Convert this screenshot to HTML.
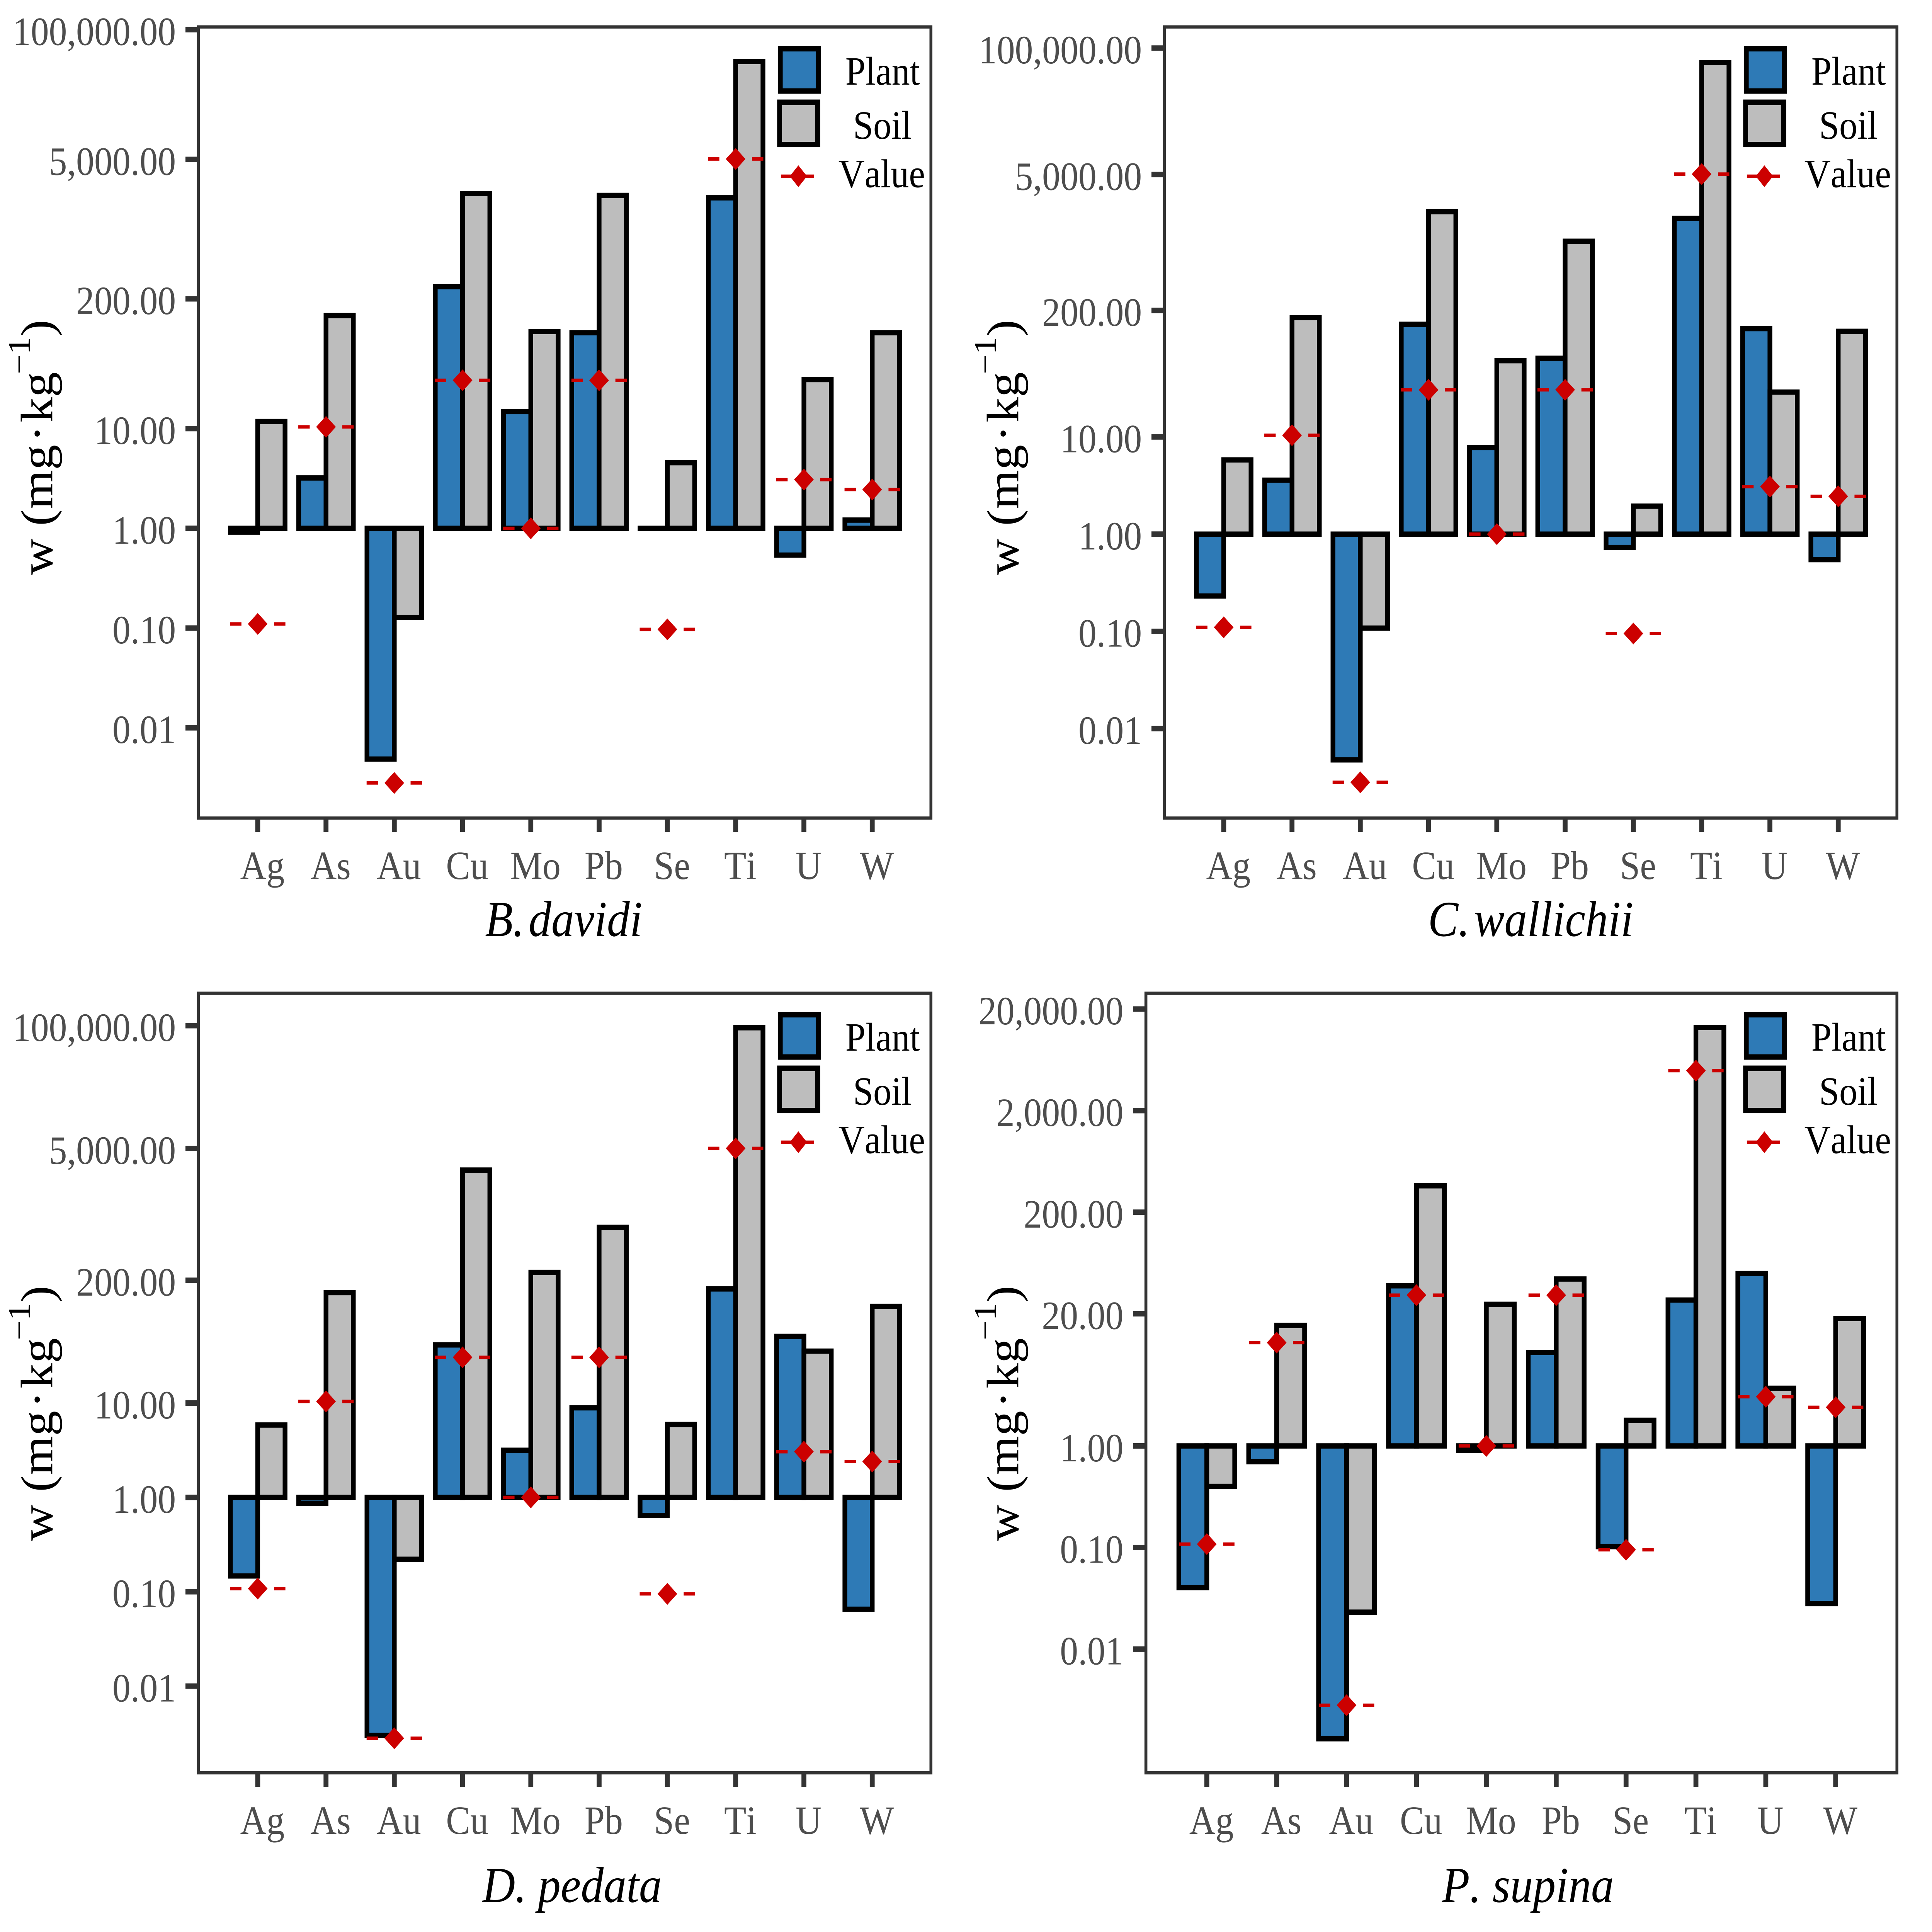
<!DOCTYPE html>
<html lang="en">
<head>
<meta charset="utf-8">
<title>Element concentrations in plant and soil</title>
<style>
html,body{margin:0;padding:0;background:#fff;width:100%;height:100%;overflow:hidden;}
svg{display:block;width:100vw;height:100vh;}
text{font-family:"Liberation Serif","Times New Roman",serif;font-kerning:none;text-rendering:geometricPrecision;}
</style>
</head>
<body>
<svg id="figure" xmlns="http://www.w3.org/2000/svg" viewBox="0 0 6282 5668" preserveAspectRatio="none">
<rect x="0" y="0" width="6282" height="5668" fill="#ffffff"/>
</svg>
<script>
// ---- chart data ----
const categories = ['Ag','As','Au','Cu','Mo','Pb','Se','Ti','U','W'];
const legendLabels = ['Plant','Soil','Value'];

const davidiPlant = [0.917,3.2,0.00486,265,14.8,91.4,1.0,2060,0.539,1.21];
const davidiSoil = [11.8,136,0.128,2275,94,2180,4.55,48000,31,91.4];
const davidiValue = [0.11,10.4,0.0028,30.5,1,30.5,0.097,5050,3.08,2.45];

const wallichiiPlant = [0.231,3.59,0.00476,144,7.77,64.4,0.73,1770,130,0.546];
const wallichiiSoil = [5.8,169,0.108,2077,60.8,1030,1.94,71000,28.9,122];
const wallichiiValue = [0.11,10.4,0.0028,30.5,1,30.5,0.095,5050,3.08,2.45];

const pedataPlant = [0.147,0.867,0.003,41.3,3.16,8.9,0.642,162,50.9,0.0653];
const pedataSoil = [5.85,148,0.221,2947,243,728,5.93,95000,35.5,106];
const pedataValue = [0.108,10.4,0.0028,30.5,1,30.5,0.095,5000,3.05,2.4];

const supinaPlant = [0.0403,0.70,0.00131,37.7,0.9,8.32,0.102,27.3,49.9,0.028];
const supinaSoil = [0.4,15.4,0.0231,364,24.8,44,1.79,13200,3.7,18];
const supinaValue = [0.108,10.4,0.0028,30.5,1,30.5,0.095,4950,3.05,2.4];

const tickLabelsWide = ['100,000.00','5,000.00','200.00','10.00','1.00','0.10','0.01'];
const tickLabelsSupina = ['20,000.00','2,000.00','200.00','20.00','1.00','0.10','0.01'];

// ---- panel layout (not data) ----
const panels = [
  {slug:'b-davidi', title:'B.', title2:'davidi', gap:14, tx:1833, ox:0, oy:0, left:645, right:3027, top:79, bottom:2400, y1:1550, k:292.6, x0:838, dx:222, plant:davidiPlant, soil:davidiSoil, value:davidiValue, ticks:tickLabelsWide},
  {slug:'c-wallichii', title:'C.', title2:'wallichii', gap:14, tx:4977, ox:3141, oy:0, left:3786, right:6168, top:79, bottom:2400, y1:1567, k:285.2, x0:3979, dx:222, plant:wallichiiPlant, soil:wallichiiSoil, value:wallichiiValue, ticks:tickLabelsWide},
  {slug:'d-pedata', title:'D.', title2:'pedata', gap:37, tx:1860, ox:0, oy:2834, left:645, right:3027, top:2914, bottom:5201, y1:4393, k:276.8, x0:838, dx:222, plant:pedataPlant, soil:pedataSoil, value:pedataValue, ticks:tickLabelsWide},
  {slug:'p-supina', title:'P.', title2:'supina', gap:37, tx:4968, ox:3141, oy:2834, left:3726, right:6168, top:2914, bottom:5201, y1:4242, k:298, x0:3924, dx:227.2, plant:supinaPlant, soil:supinaSoil, value:supinaValue, ticks:tickLabelsSupina}
];

const NS = 'http://www.w3.org/2000/svg';
const root = document.getElementById('figure');
const BLUE = '#2E7AB6', GREY = '#BDBDBD', RED = '#CC0000', AXIS = '#333333', TICKTEXT = '#4D4D4D';
const BAR_STROKE = 15.5;
const FONT_TICK = 118, FONT_TITLE = 148;

function mk(tag, attrs, parent, txt) {
  const el = document.createElementNS(NS, tag);
  for (const key in attrs) el.setAttribute(key, attrs[key]);
  if (txt !== undefined) el.textContent = txt;
  parent.appendChild(el);
  return el;
}

function drawBar(g, x, w, yBase, yVal, fill, name) {
  const h = Math.max(Math.abs(yVal-yBase), 0.5);
  const el = mk('rect', {x:x, y:Math.min(yBase,yVal), width:w, height:h, fill:fill, stroke:'#000000', 'stroke-width':BAR_STROKE, 'stroke-linejoin':'miter'}, g);
  
  
}

function drawMarker(g, cx, cy, name) {
  const m = mk('g', {}, g);
  
  
  mk('rect', {x:cx-90, y:cy-5, width:37, height:10, fill:RED}, m);
  mk('rect', {x:cx+53, y:cy-5, width:37, height:10, fill:RED}, m);
  mk('polygon', {points:(cx-32)+','+cy+' '+cx+','+(cy-32)+' '+(cx+32)+','+cy+' '+cx+','+(cy+32), fill:RED}, m);
}

function drawPanel(p) {
  const g = mk('g', {}, root);
  
  

  const xScale = function(i){ return p.x0 + i * p.dx; };
  const yScale = function(v){ return p.y1 - p.k * Math.log10(v); };
  const barW = p.dx * 0.4;

  // bars
  categories.forEach(function(cat, i){
    drawBar(g, xScale(i)-barW, barW, yScale(1), yScale(p.plant[i]), BLUE, 'plant-bar-' + cat.toLowerCase());
    drawBar(g, xScale(i), barW, yScale(1), yScale(p.soil[i]), GREY, 'soil-bar-' + cat.toLowerCase());
  });
  // value markers
  categories.forEach(function(cat, i){
    drawMarker(g, xScale(i), yScale(p.value[i]), 'value-marker-' + cat.toLowerCase());
  });

  // frame
  const frame = mk('rect', {x:p.left, y:p.top, width:p.right-p.left, height:p.bottom-p.top, fill:'none', stroke:AXIS, 'stroke-width':9.5}, g);
  
  

  // y ticks
  p.ticks.forEach(function(label){
    const v = Number(label.replace(/,/g,''));
    const ty = yScale(v);
    const tick = mk('rect', {x:p.left-42, y:ty-8, width:38, height:16, fill:AXIS}, g);
    
    
    const t = mk('text', {x:p.left-73, y:ty+45, 'text-anchor':'end', 'font-size':FONT_TICK, fill:TICKTEXT}, g, label);
    
    
  });

  // x ticks
  categories.forEach(function(cat, i){
    const tick = mk('rect', {x:xScale(i)-8, y:p.bottom+3, width:16, height:38, fill:AXIS}, g);
    
    
    const t = mk('text', {x:xScale(i)+15, y:p.bottom+179, 'text-anchor':'middle', 'font-size':FONT_TICK, fill:TICKTEXT}, g, cat);
    
    
  });

  // x title
  const xt = mk('text', {x:p.tx, y:p.oy+2746, 'text-anchor':'middle', 'font-size':FONT_TITLE, 'font-style':'italic', fill:'#000000'}, g);
  
  
  mk('tspan', {}, xt, p.title);
  mk('tspan', {dx:p.gap}, xt, p.title2);

  // y title
  const ytx = p.ox + 170, yty = p.oy + 1687;
  const yg = mk('g', {transform:'translate(' + ytx + ',' + yty + ') rotate(-90)'}, g);
  
  
  const main = mk('text', {x:0, y:0, 'font-size':FONT_TITLE, fill:'#000000'}, yg);
  mk('tspan', {}, main, 'w (mg');
  mk('tspan', {dx:8}, main, '\u00B7');
  mk('tspan', {dx:8}, main, 'kg');
  mk('text', {x:589, y:-73, 'font-size':103, fill:'#000000'}, yg, '\u22121');
  mk('text', {x:700, y:0, 'font-size':FONT_TITLE, fill:'#000000'}, yg, ')');

  // legend
  const lg = mk('g', {}, g);
  
  

  const plantKey = mk('rect', {x:p.ox+2537, y:p.oy+143, width:124, height:124, fill:BLUE, stroke:'#000000', 'stroke-width':16}, lg);
  
  
  const plantText = mk('text', {x:p.ox+2870, y:p.oy+248, 'text-anchor':'middle', 'font-size':FONT_TICK, fill:'#000000'}, lg, legendLabels[0]);
  
  

  const soilKey = mk('rect', {x:p.ox+2535, y:p.oy+300, width:124, height:124, fill:GREY, stroke:'#000000', 'stroke-width':16}, lg);
  
  
  const soilText = mk('text', {x:p.ox+2869, y:p.oy+407, 'text-anchor':'middle', 'font-size':FONT_TICK, fill:'#000000'}, lg, legendLabels[1]);
  
  

  const valKey = mk('g', {}, lg);
  
  
  const kx = p.ox + 2596, ky = p.oy + 517;
  mk('rect', {x:kx-57, y:ky-5, width:107, height:10, fill:RED}, valKey);
  mk('polygon', {points:(kx-28)+','+ky+' '+kx+','+(ky-32)+' '+(kx+28)+','+ky+' '+kx+','+(ky+32), fill:RED}, valKey);
  const valText = mk('text', {x:p.ox+2867, y:p.oy+549, 'text-anchor':'middle', 'font-size':FONT_TICK, fill:'#000000'}, lg, legendLabels[2]);
  
  
}

panels.forEach(drawPanel);
</script>
</body>
</html>
